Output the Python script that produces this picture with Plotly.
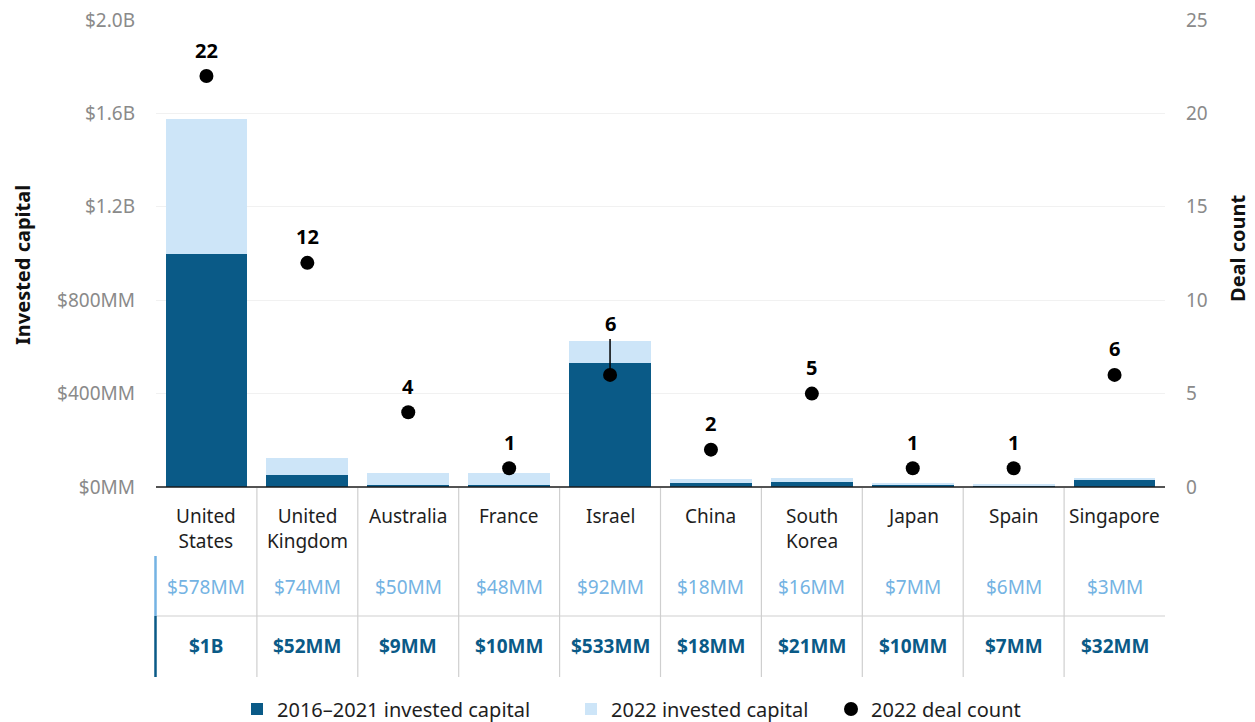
import plotly.graph_objects as go

countries = ["United<br>States", "United<br>Kingdom", "Australia", "France", "Israel",
             "China", "South<br>Korea", "Japan", "Spain", "Singapore"]
capital_2016_2021 = [1000, 52, 9, 10, 533, 18, 21, 10, 7, 32]   # $MM
capital_2022 = [578, 74, 50, 48, 92, 18, 16, 7, 6, 3]            # $MM
deal_count_2022 = [22, 12, 4, 1, 6, 2, 5, 1, 1, 6]
left_ticks = [0, 400, 800, 1200, 1600, 2000]
left_tick_labels = ["$0MM", "$400MM", "$800MM", "$1.2B", "$1.6B", "$2.0B"]
right_ticks = [0, 5, 10, 15, 20, 25]

DARK = "#0a5a87"
LIGHT = "#cde5f8"
LIGHT_TXT = "#74b3e3"
GRAY = "#8a8a8a"
FONT = "Noto Sans"
FS = 19

def fmt(v):
    return f"${v/1000:g}B" if v >= 1000 else f"${v:g}MM"

# page body has an 8px margin; figure is sized so it ends at the window edge
OFF = 8
W, H = 1255 - OFF, 722 - OFF
# plot area in screen pixels
X0, X1, Y0, Y1 = 156, 1165, 20, 487
L, R, T, B = X0 - OFF, W - (X1 - OFF), Y0 - OFF, H - (Y1 - OFF)
def py(sy):
    return (Y1 - sy) / (Y1 - Y0)
def pxx(sx):
    return (sx - X0) / (X1 - X0)

x_idx = list(range(len(countries)))

fig = go.Figure()
fig.add_trace(go.Bar(x=x_idx, y=capital_2016_2021, name="2016–2021 invested capital",
                     marker=dict(color=DARK, line=dict(width=0)), width=0.81, legend="legend"))
fig.add_trace(go.Bar(x=x_idx, y=capital_2022, name="2022 invested capital",
                     marker=dict(color=LIGHT, line=dict(width=0)), width=0.81, legend="legend2"))
fig.add_trace(go.Scatter(x=x_idx, y=deal_count_2022, name="2022 deal count", yaxis="y2",
                         mode="markers", marker=dict(color="black", size=14), legend="legend3"))

ann = []
# deal count labels
for i, d in enumerate(deal_count_2022):
    if countries[i] == "Israel":
        ann.append(dict(x=i, y=d, xref="x", yref="y2", text=f"<b>{d}</b>", showarrow=True,
                        arrowhead=0, arrowwidth=1.5, arrowcolor="black", ax=0, ay=-51,
                        font=dict(size=20, color="black", family=FONT)))
    else:
        ann.append(dict(x=i, y=d, xref="x", yref="y2", text=f"<b>{d}</b>", showarrow=False,
                        yshift=26, font=dict(size=20, color="black", family=FONT)))

# table: category labels and values
for i, c in enumerate(countries):
    ann.append(dict(x=i, y=py(501), xref="x", yref="paper", text=c, showarrow=False,
                    yanchor="top", xanchor="center",
                    font=dict(size=FS, color="#1e1e1e", family=FONT)))
    ann.append(dict(x=i, y=py(587), xref="x", yref="paper", text=fmt(capital_2022[i]),
                    showarrow=False, yanchor="middle", xanchor="center",
                    font=dict(size=FS, color=LIGHT_TXT, family=FONT)))
    ann.append(dict(x=i, y=py(646), xref="x", yref="paper", text=f"<b>{fmt(capital_2016_2021[i])}</b>",
                    showarrow=False, yanchor="middle", xanchor="center",
                    font=dict(size=FS, color=DARK, family=FONT)))

# axis titles
ann.append(dict(x=pxx(22), y=py(265), xref="paper", yref="paper", text="<b>Invested capital</b>",
                textangle=-90, showarrow=False, xanchor="center", yanchor="middle",
                font=dict(size=20, color="#111", family=FONT)))
ann.append(dict(x=pxx(1237), y=py(248), xref="paper", yref="paper", text="<b>Deal count</b>",
                textangle=-90, showarrow=False, xanchor="center", yanchor="middle",
                font=dict(size=20, color="#111", family=FONT)))

shapes = []
for i in range(len(countries) - 1):
    shapes.append(dict(type="line", xref="x", yref="paper", x0=i + 0.5, x1=i + 0.5,
                       y0=py(488), y1=py(677), line=dict(color="#cfcfcf", width=1.2)))
shapes.append(dict(type="line", xref="paper", yref="paper", x0=0, x1=1,
                   y0=py(616), y1=py(616), line=dict(color="#cfcfcf", width=1.2)))
shapes.append(dict(type="line", xref="paper", yref="paper", x0=-0.0005, x1=-0.0005,
                   y0=py(556), y1=py(616), line=dict(color=LIGHT_TXT, width=2.5)))
shapes.append(dict(type="line", xref="paper", yref="paper", x0=-0.0005, x1=-0.0005,
                   y0=py(616), y1=py(677), line=dict(color=DARK, width=2.5)))
shapes.append(dict(type="line", xref="paper", yref="paper", x0=0, x1=1,
                   y0=0, y1=0, line=dict(color="#1a1a1a", width=1.5)))

def legend_at(sx):
    return dict(orientation="h", x=pxx(sx), xanchor="left", y=py(709), yanchor="middle",
                font=dict(size=20, color="#1e1e1e", family=FONT), itemwidth=30,
                bgcolor="rgba(0,0,0,0)")

fig.update_layout(
    width=W, height=H, margin=dict(l=L, r=R, t=T, b=B, autoexpand=False),
    barmode="stack", bargap=0.19,
    paper_bgcolor="white", plot_bgcolor="white",
    font=dict(family=FONT, size=FS, color=GRAY),
    xaxis=dict(range=[-0.5, len(countries) - 0.5], showticklabels=False, showgrid=False,
               zeroline=False, showline=False, fixedrange=True, automargin=False),
    yaxis=dict(range=[0, 2000], tickvals=left_ticks, ticktext=left_tick_labels,
               showgrid=True, gridcolor="#f1f1f1", gridwidth=1, zeroline=False,
               tickfont=dict(size=FS, color=GRAY), ticklabelstandoff=20, automargin=False,
               ticklabeloverflow="allow"),
    yaxis2=dict(range=[0, 25], tickvals=right_ticks, overlaying="y", side="right",
                showgrid=False, zeroline=False, tickfont=dict(size=FS, color=GRAY),
                ticklabelstandoff=20, automargin=False, ticklabeloverflow="allow"),
    legend=legend_at(237), legend2=legend_at(571), legend3=legend_at(831),
    annotations=ann, shapes=shapes, showlegend=True,
)

fig.write_html("out.html")
